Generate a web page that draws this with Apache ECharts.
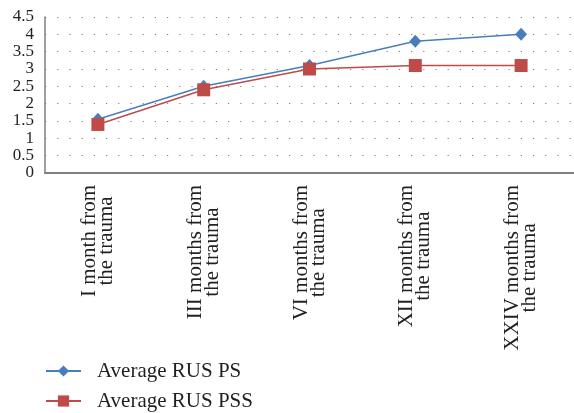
<!DOCTYPE html>
<html>
<head>
<meta charset="utf-8">
<script src="https://cdn.jsdelivr.net/npm/echarts@6/dist/echarts.min.js"></script>
<style>
  html, body { margin: 0; padding: 0; background: #fff; }
  #chart { width: 574px; height: 413px; }
</style>
</head>
<body>
<div id="chart"></div>
<script>
// Time points after the trauma (two-line category labels)
const categories = [
  'I month from\nthe trauma',
  'III months from\nthe trauma',
  'VI months from\nthe trauma',
  'XII months from\nthe trauma',
  'XXIV months from\nthe trauma'
];

// Average RUS scores per group
const seriesNames = ['Average RUS PS', 'Average RUS PSS'];
const averageRusPS = [1.55, 2.5, 3.1, 3.8, 4.0];
const averageRusPSS = [1.4, 2.4, 3.0, 3.1, 3.1];

const FONT = 'Liberation Serif';
const TEXT = '#231f20';

const chart = echarts.init(document.getElementById('chart'), null, { renderer: 'canvas' });

chart.setOption({
  animation: false,
  backgroundColor: '#ffffff',
  grid: { left: 45, right: 0, top: 17, bottom: 240, containLabel: false },
  legend: {
    orient: 'vertical',
    left: 45,
    top: 360,
    height: 53,
    padding: 0,
    itemWidth: 35,
    itemHeight: 14,
    itemGap: 8,
    textStyle: { fontFamily: FONT, fontSize: 21, lineHeight: 22, color: TEXT, padding: [0, 0, 0, 11] },
    data: seriesNames
  },
  xAxis: {
    type: 'category',
    data: categories,
    boundaryGap: true,
    axisLine: { lineStyle: { color: '#7f7f7f', width: 2 } },
    axisTick: { show: false },
    axisLabel: {
      interval: 0,
      rotate: 90,
      margin: 12,
      formatter: v => v.split('\n').map(s => '{c|' + s + '}').join('\n'),
      rich: {
        c: { fontFamily: FONT, fontSize: 21, lineHeight: 17, color: TEXT, align: 'center' }
      }
    }
  },
  yAxis: {
    type: 'value',
    min: 0,
    max: 4.5,
    interval: 0.5,
    axisLine: { show: true, lineStyle: { color: '#7f7f7f', width: 1.5 } },
    axisTick: { show: false },
    axisLabel: {
      fontFamily: FONT, fontSize: 17, color: TEXT, margin: 11,
      showMinLabel: true, showMaxLabel: true
    },
    splitLine: { show: true, lineStyle: { color: '#7f7f7f', width: 1.2, type: [1.2, 11] } }
  },
  series: [
    {
      name: seriesNames[0],
      type: 'line',
      data: averageRusPS,
      symbol: 'diamond',
      symbolSize: [12, 13],
      itemStyle: { color: '#4a7ebb' },
      lineStyle: { color: '#4a7ebb', width: 1.5 }
    },
    {
      name: seriesNames[1],
      type: 'line',
      data: averageRusPSS,
      symbol: 'rect',
      symbolSize: 13,
      itemStyle: { color: '#be4b48' },
      lineStyle: { color: '#be4b48', width: 1.5 }
    }
  ]
});
</script>
</body>
</html>
